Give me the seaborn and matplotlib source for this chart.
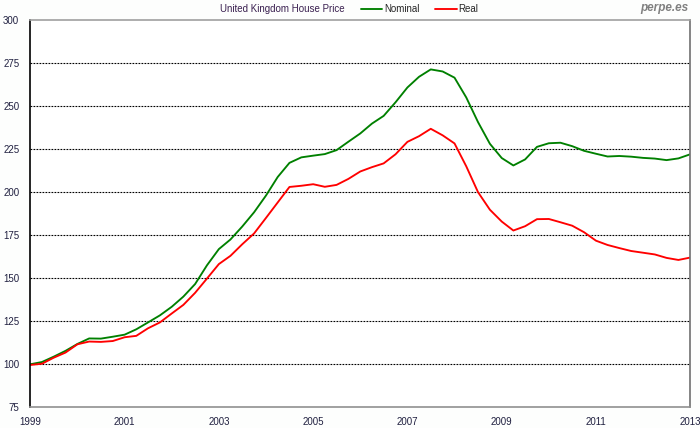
import matplotlib
matplotlib.use('Agg')
import matplotlib.pyplot as plt
import matplotlib.dates as mdates
import pandas as pd
import seaborn as sns

# quarterly readings, Jan 1999 .. Jan 2013 (index 1999 = 100)
quarters = pd.date_range('1999-01-01', '2013-01-01', freq='QS')

nominal = [
    100.0, 101.3, 104.4, 107.8, 111.8, 115.0, 114.9, 116.0,   # 1999-2000
    117.2, 120.3, 124.3, 128.4, 133.4, 139.3, 146.6, 157.5,   # 2001-2002
    166.9, 172.5, 180.0, 188.3, 198.0, 208.8, 217.0, 220.2,   # 2003-2004
    221.2, 222.1, 224.4, 229.3, 234.1, 239.8, 244.3, 252.2,   # 2005-2006
    260.8, 267.0, 271.3, 270.1, 266.5, 255.0, 240.7, 228.1,   # 2007-2008
    219.8, 215.5, 219.0, 226.3, 228.4, 228.7, 226.7, 224.0,   # 2009-2010
    222.3, 220.7, 221.0, 220.6, 219.9, 219.5, 218.6, 219.6,   # 2011-2012
    222.0,
]

real = [
    99.6, 100.3, 103.8, 106.8, 111.6, 113.2, 113.0, 113.5,
    115.7, 116.5, 120.9, 124.3, 129.5, 134.5, 141.5, 149.8,
    158.2, 163.0, 169.7, 176.0, 185.0, 194.0, 203.0, 203.7,
    204.6, 203.1, 204.2, 207.7, 212.0, 214.5, 216.7, 222.0,
    229.2, 232.5, 236.8, 233.0, 228.3, 215.0, 200.0, 189.8,
    182.9, 177.7, 180.2, 184.3, 184.4, 182.5, 180.5, 176.7,
    171.8, 169.3, 167.5, 165.8, 164.8, 163.8, 161.8, 160.6,
    162.0,
]

series_names = ['Nominal', 'Real']
series_colors = {'Nominal': '#008000', 'Real': '#ff0000'}
tick_years = [1999, 2001, 2003, 2005, 2007, 2009, 2011, 2013]
y_ticks = [75, 100, 125, 150, 175, 200, 225, 250, 275, 300]

df = pd.DataFrame({
    'date': list(quarters) * 2,
    'value': nominal + real,
    'series': ['Nominal'] * len(nominal) + ['Real'] * len(real),
})

sns.set_style('white')
plt.rcParams['font.family'] = ['Liberation Sans', 'DejaVu Sans']

fig = plt.figure(figsize=(7, 4.28), dpi=100)
fig.patch.set_facecolor('#fdfefd')
ax = fig.add_axes([30.3 / 700, 1 - 407.3 / 428, 660 / 700, 387.3 / 428])
ax.set_facecolor('white')

sns.lineplot(data=df, x='date', y='value', hue='series', hue_order=series_names,
             palette=series_colors, linewidth=1.35, ax=ax)

# dashed horizontal grid, inside the box only
for y in y_ticks[1:-1]:
    ax.axhline(y, color='black', linewidth=0.8, linestyle=(0, (1.6, 1.1)), zorder=0.5)

ax.set_xlim(pd.Timestamp('1999-01-01'), pd.Timestamp('2013-01-01'))
ax.set_ylim(75, 300)
ax.set_xticks([pd.Timestamp(f'{y}-01-01') for y in tick_years])
ax.xaxis.set_major_formatter(mdates.DateFormatter('%Y'))
ax.set_yticks(y_ticks)
ax.set_xlabel('')
ax.set_ylabel('')
ax.tick_params(axis='both', length=0, labelsize=7, colors='#202040')
ax.tick_params(axis='y', pad=8)
ax.tick_params(axis='x', pad=7)

ax.spines['left'].set_color('black')
ax.spines['right'].set_color('#707070')
ax.spines['top'].set_color('#a0a0a0')
ax.spines['bottom'].set_color('#909090')
for s in ax.spines.values():
    s.set_linewidth(1.2)

# header: caption + legend, like the Excel original
handles, labels = ax.get_legend_handles_labels()
ax.get_legend().remove()
fig.text(220 / 700, 1 - 9 / 428, 'United Kingdom House Price', fontsize=7,
         color='#3a2050', va='center', ha='left')
fig.legend(handles, labels, loc='center left', bbox_to_anchor=(361 / 700, 1 - 9 / 428),
           ncol=2, frameon=False, fontsize=7, handlelength=2.2, handletextpad=0.2,
           columnspacing=1.6, borderpad=0, borderaxespad=0)
fig.text(688 / 700, 1 - 8 / 428, 'perpe.es', fontsize=8.5, color='#808080',
         fontweight='bold', fontstyle='italic', ha='right', va='center')

fig.savefig('out.png', dpi=100, facecolor=fig.get_facecolor())
plt.close(fig)
